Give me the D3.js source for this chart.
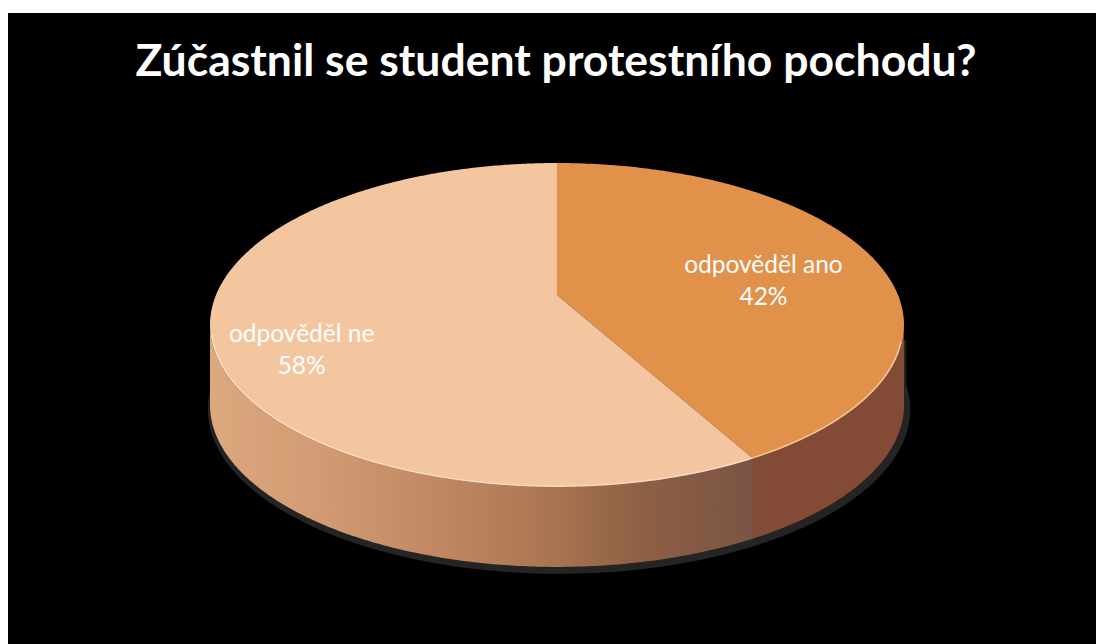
<!DOCTYPE html>
<html>
<head>
<meta charset="utf-8">
<script src="https://cdn.jsdelivr.net/npm/d3@7"></script>
<style>
  body { margin: 0; background: #fff; }
  svg { display: block; }
</style>
</head>
<body>
<div id="chart"></div>
<script>
// data
const categories = ["odpověděl ano", "odpověděl ne"];
const values = [42, 58];
const percentLabels = ["42%", "58%"];
const title = "Zúčastnil se student protestního pochodu?";

const width = 1096, height = 644;

// colours for top faces and the sides
const topColors = ["#e1914a", "#f3c6a0"];

// perspective settings of the 3d pie
const cx = 557, cy = 295;   // projected centre of the pie
const ax = 341, sy = 156.4; // horizontal / vertical scale
const k = 0.185;            // perspective strength
const depth = 80;

// project a point on the disc (angle clockwise from top, radius 0..1)
function proj(phi, r = 1, dy = 0) {
  const X = r * Math.sin(phi), Y = -r * Math.cos(phi);
  const w = 1 - k * Y;
  return [cx + ax * X / w, cy + sy * Y / w + dy];
}

const svg = d3.select("#chart").append("svg")
  .attr("width", width)
  .attr("height", height);

svg.append("rect")
  .attr("x", 8).attr("y", 13)
  .attr("width", width - 8).attr("height", height - 13)
  .attr("fill", "#000");

//gradient for the big slice side
const defs = svg.append("defs");
const grad = defs.append("linearGradient")
  .attr("id", "sideNe")
  .attr("gradientUnits", "userSpaceOnUse")
  .attr("x1", 212).attr("x2", 752).attr("y1", 0).attr("y2", 0);
[[0, "#dca87e"], [0.2, "#d29b73"], [0.4, "#c28a64"], [0.6, "#ad7853"],
 [0.8, "#8d5f45"], [1, "#7b5444"]].forEach(([o, c]) =>
  grad.append("stop").attr("offset", o).attr("stop-color", c));

const sideColors = ["#834b36", "url(#sideNe)"];

const pie = d3.pie().sort(null).value(d => d);
const arcs = pie(values);

const line = d3.line();
const step = Math.PI / 360;

function arcPoints(a0, a1, r = 1, dy = 0) {
  const pts = d3.range(a0, a1, step).map(p => proj(p, r, dy));
  pts.push(proj(a1, r, dy));
  return pts;
}

// silhouette limits (horizontal extremes of the projected disc)
const frontStart = Math.acos(-k);
const frontEnd = 2 * Math.PI - frontStart;

// shadow below the pie
const shadowPts = arcPoints(frontStart - 0.15, frontEnd + 0.15, 1, depth)
  .map(([x, y]) => [cx + (x - cx) * 1.012 + 2, y + 4 + (y - cy - depth) * 0.015]);
svg.append("path")
  .attr("d", line([[shadowPts[0][0], cy + 45], ...shadowPts,
    [shadowPts[shadowPts.length - 1][0], cy + 45]]) + "Z")
  .attr("fill", "#242424");

// sides
svg.selectAll("path.side")
  .data(arcs)
  .join("path")
  .attr("class", "side")
  .attr("d", d => {
    const lo = Math.max(d.startAngle, frontStart);
    const hi = Math.min(d.endAngle, frontEnd);
    if (lo >= hi) return null;
    const top = arcPoints(lo, hi);
    const bottom = arcPoints(lo, hi, 1, depth).reverse();
    return line([...top, ...bottom]) + "Z";
  })
  .attr("fill", (d, i) => sideColors[i]);

// top faces
svg.selectAll("path.top")
  .data(arcs)
  .join("path")
  .attr("class", "top")
  .attr("d", d => line([[cx, cy], ...arcPoints(d.startAngle, d.endAngle)]) + "Z")
  .attr("fill", (d, i) => topColors[i]);

// bevel highlight along the front edge
svg.append("path")
  .attr("d", line(arcPoints(frontStart + 0.1, frontEnd - 0.05, 0.997)))
  .attr("fill", "none")
  .attr("stroke", "#ffe6d0")
  .attr("stroke-opacity", 0.6)
  .attr("stroke-width", 1.5);

// labels
const labelNudge = [[-2, 3], [-34, 21]];
const labels = svg.selectAll("text.label")
  .data(arcs)
  .join("text")
  .attr("class", "label")
  .attr("text-anchor", "middle")
  .attr("font-family", "Lato, 'Open Sans', sans-serif")
  .attr("font-size", 24.5)
  .attr("fill", "#fff")
  .attr("transform", (d, i) => {
    const [x, y] = proj((d.startAngle + d.endAngle) / 2, 0.65);
    return `translate(${x + labelNudge[i][0]},${y + labelNudge[i][1]})`;
  });
labels.append("tspan").attr("x", 0).attr("y", 0).text((d, i) => categories[i]);
labels.append("tspan").attr("x", 0).attr("y", 32).text((d, i) => percentLabels[i]);

// title
svg.append("text")
  .attr("x", 556).attr("y", 76)
  .attr("text-anchor", "middle")
  .attr("font-family", "Lato, 'Open Sans', sans-serif")
  .attr("font-weight", "bold")
  .attr("font-size", 44.5)
  .attr("fill", "#fff")
  .text(title);
</script>
</body>
</html>
